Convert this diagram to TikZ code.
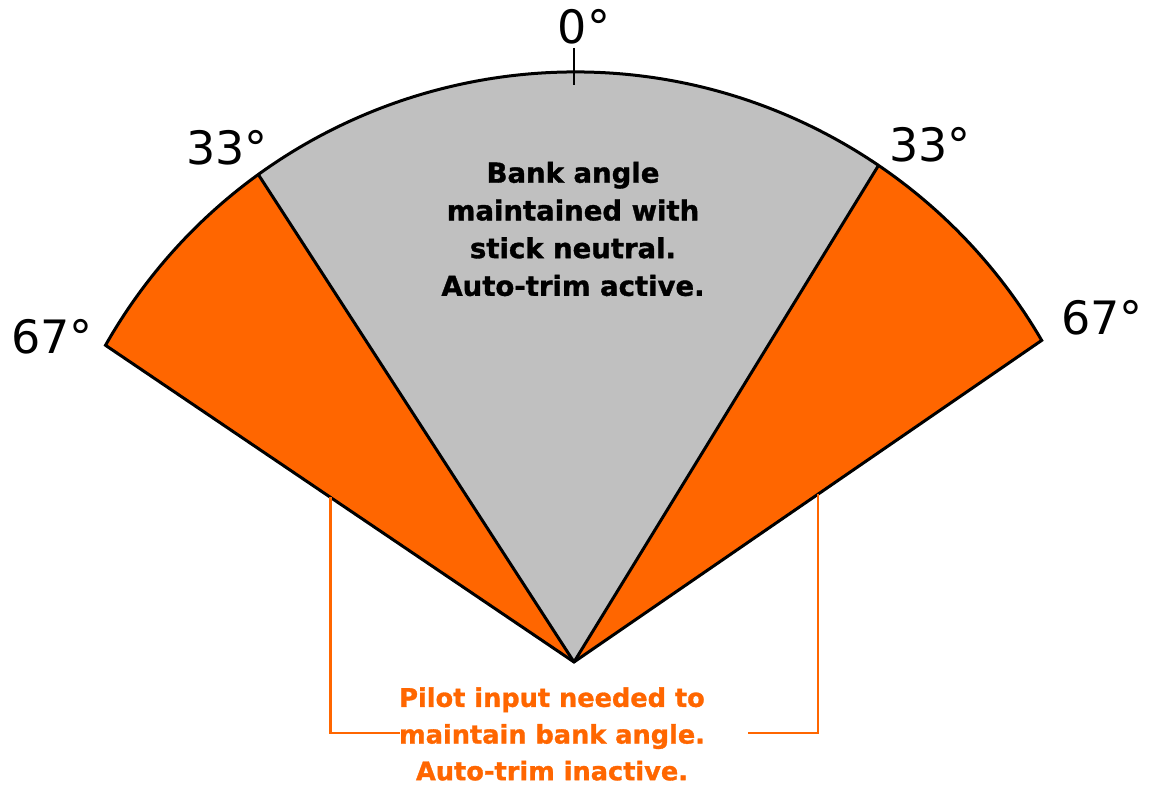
\documentclass[tikz,border=0pt]{standalone}
\usepackage{fontspec}
\setmainfont{DejaVu Sans}[BoldFeatures={FakeBold=1.2}]
\usetikzlibrary{calc}
\definecolor{fanorange}{HTML}{FF6600}
\definecolor{fangray}{HTML}{C0C0C0}
\begin{document}
\begin{tikzpicture}[x=1pt,y=1pt,
  edge/.style={draw=black,line width=3pt,line join=miter},
  deglabel/.style={font=\fontsize{46}{50}\selectfont,inner sep=0pt},
  bracket/.style={draw=fanorange,line width=2.8pt},
  keeptext/.style={font=\bfseries\fontsize{27.5}{37.7}\selectfont,align=center,inner sep=0pt},
  pilottext/.style={font=\bfseries\fontsize{25.6}{36.7}\selectfont,align=center,inner sep=0pt,text=fanorange}]
\useasboundingbox (0,0) rectangle (1151,788);
\coordinate (C) at (575,176);
\coordinate (A) at (574,126);
\coordinate (L67) at ($(C)+(150.4:540)$);
\coordinate (L33) at ($(C)+(125.9:540)$);
\coordinate (R33) at ($(C)+(55.8:540)$);
\coordinate (R67) at ($(C)+(30.2:540)$);
% sectors
\fill[fanorange] (A) -- (L67) arc[start angle=150.4,end angle=125.9,radius=540pt] -- cycle;
\fill[fangray] (A) -- (L33) arc[start angle=125.9,end angle=55.8,radius=540pt] -- cycle;
\fill[fanorange] (A) -- (R33) arc[start angle=55.8,end angle=30.2,radius=540pt] -- cycle;
% outlines
\draw[edge] (A) -- (L67) arc[start angle=150.4,end angle=30.2,radius=540pt] -- cycle;
\draw[edge] (A) -- (L33);
\draw[edge] (A) -- (R33);
% tick at 0 degrees
\coordinate (T1) at (574,740);
\coordinate (T2) at (574,703);
\draw[line width=2.8pt] (T1) -- (T2);
% labels
\node[deglabel] (d0) at (584,761) {0°};
\node[deglabel] (d33l) at (227,640) {33°};
\node[deglabel] (d33r) at (930,643) {33°};
\node[deglabel] (d67l) at (52,451) {67°};
\node[deglabel] (d67r) at (1102,470) {67°};
% texts
\node[keeptext] (keep) at (573,559) {Bank angle\\maintained with\\stick neutral.\\Auto-trim active.};
\node[pilottext] (pilot) at (552,54) {Pilot input needed to\\maintain bank angle.\\Auto-trim inactive.};
% brackets
\coordinate (BL) at ($(A)!0.5206!(L67)$);
\coordinate (BR) at ($(A)!0.5217!(R67)$);
\coordinate (BLend) at (400,55);
\coordinate (BRend) at (748,55);
\draw[bracket] (BL) |- (BLend);
\draw[bracket] (BR) |- (BRend);
\end{tikzpicture}
\end{document}
